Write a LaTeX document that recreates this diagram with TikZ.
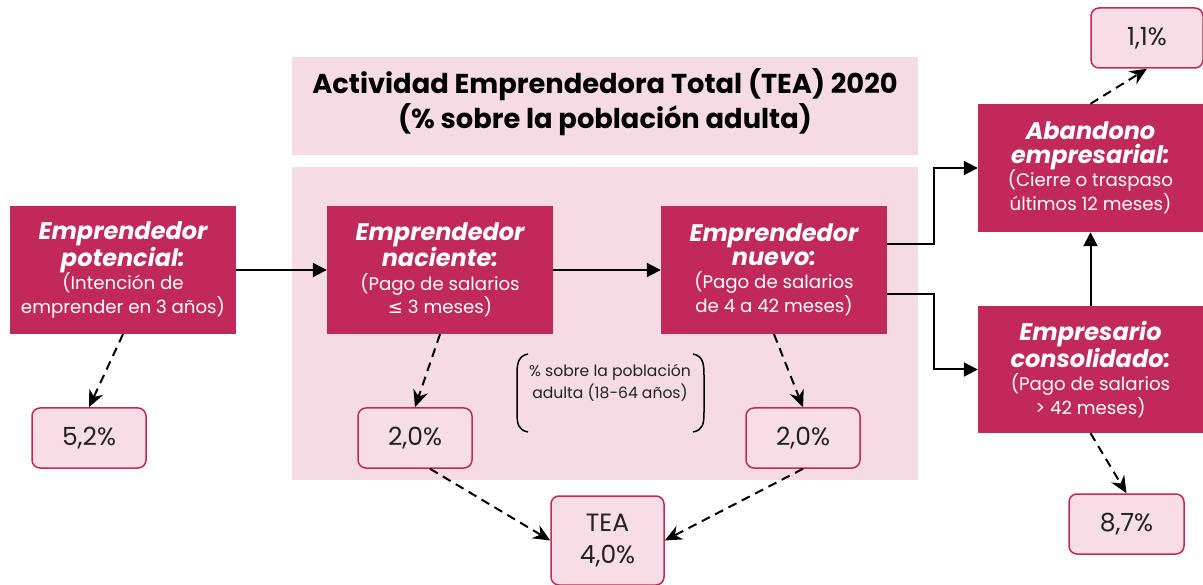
\documentclass[tikz,border=0pt]{standalone}
\usepackage{fontspec}
\setmainfont{Poppins}
\newfontfamily\symf{DejaVu Sans}
\usetikzlibrary{arrows.meta,calc}
\definecolor{dark}{HTML}{C0295A}
\definecolor{lightbg}{HTML}{F5DCE4}
\definecolor{pillfill}{HTML}{F7DDE5}
\definecolor{txt}{HTML}{222222}
\newcommand\hd{\fontsize{24}{26.5}\selectfont\bfseries\itshape}
\begin{document}
\begin{tikzpicture}[x=1pt,y=-1pt,
  darkbox/.style={fill=dark, text=white, minimum width=226pt, minimum height=128pt, inner sep=0pt, align=center, font=\fontsize{18.2}{23.5}\selectfont},
  pillbox/.style={fill=pillfill, draw=dark, line width=1.5pt, rounded corners=8pt, minimum width=114pt, minimum height=60pt, inner sep=0pt, align=center, text=txt, font=\fontsize{25}{32}\selectfont},
  solidarr/.style={line width=2pt, -{Triangle[length=14pt,width=14pt]}},
  dasharr/.style={line width=2pt, dash pattern=on 9pt off 6pt, -{Stealth[length=17pt,width=15pt]}}
]
\useasboundingbox (0,0) rectangle (1203,585);
% backgrounds
\fill[lightbg] (292,57) rectangle (918,155);
\fill[lightbg] (292,167) rectangle (918,480);
\node[align=center, text=black, font=\fontsize{27.3}{35}\selectfont\bfseries] (title) at (605,102) {Actividad Emprendedora Total (TEA) 2020\\(\% sobre la población adulta)};

% dark boxes
\node[darkbox] (pot) at (123,270) {{\hd Emprendedor}\\{\hd potencial:}\\(Intención de\\emprender en 3 años)};
\node[darkbox] (nac) at (440,270) {{\hd Emprendedor}\\{\hd naciente:}\\(Pago de salarios\\{\symf ≤} 3 meses)};
\node[darkbox] (nue) at (774,270) {{\hd Emprendedor}\\{\hd nuevo:}\\(Pago de salarios\\de 4 a 42 meses)};
\node[darkbox, minimum width=225pt] (ab) at (1090.5,168) {{\hd Abandono}\\{\hd empresarial:}\\(Cierre o traspaso\\últimos 12 meses)};
\node[darkbox, minimum width=225pt, minimum height=127pt] (con) at (1090.5,369.5) {{\hd Empresario}\\{\hd consolidado:}\\(Pago de salarios\\> 42 meses)};

% pills
\node[pillbox] (p52) at (89,438) {5,2\%};
\node[pillbox] (p20a) at (415,438) {2,0\%};
\node[pillbox] (p20b) at (803,438) {2,0\%};
\node[pillbox, minimum width=113pt, minimum height=89pt] (tea) at (607.5,540.5) {TEA\\4,0\%};
\node[pillbox, minimum width=112pt] (p11) at (1147,38) {1,1\%};
\node[pillbox, minimum width=115pt] (p87) at (1126.5,524) {8,7\%};

% note with brackets
\node[align=center, text=txt, font=\fontsize{15.6}{22}\selectfont] (note) at (610,383) {\% sobre la población\\adulta (18-64 años)};
\draw[line width=1.5pt] (528,354) .. controls (517,356) and (517,366) .. (517,376) -- (517,412) .. controls (517,424) and (518,430) .. (528,432);
\draw[line width=1.5pt] (693,354) .. controls (704,356) and (704,366) .. (704,376) -- (704,412) .. controls (704,424) and (703,430) .. (693,432);

% solid arrows
\draw[solidarr] (pot.east) -- (nac.west);
\draw[solidarr] (nac.east) -- (nue.west);
\draw[solidarr] ($(nue.east)+(0,-26)$) -- ++(47,0) |- (ab.west);
\draw[solidarr] ($(nue.east)+(0,24)$) -- ++(47,0) |- (con.west);
\draw[solidarr] (con.north) -- (ab.south);

% dashed arrows
\draw[dasharr] (pot.south) -- (p52.north);
\draw[dasharr] (nac.south) -- (p20a.north);
\draw[dasharr] (nue.south) -- (p20b.north);
\draw[dasharr] ($(p20a.south)+(15,0)$) -- (tea.west);
\draw[dasharr] (p20b.south) -- (tea.east);
\draw[dasharr] (ab.north) -- (p11.south);
\draw[dasharr] (con.south) -- (p87.north);
\end{tikzpicture}
\end{document}
